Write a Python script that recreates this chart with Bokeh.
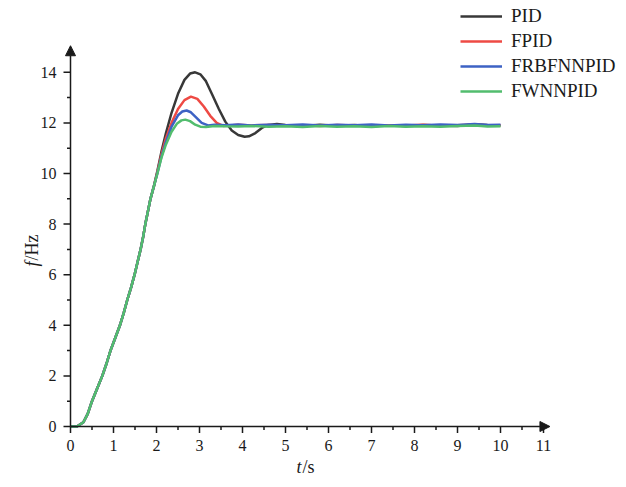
import math
from bokeh.plotting import figure
from bokeh.models import Range1d, Arrow, NormalHead, Legend, LegendItem
from bokeh.core.properties import value
from bokeh.embed import file_html
from bokeh.resources import INLINE

# common rising part (all four controllers overlap)
rise_t = [0, 0.15, 0.3, 0.4, 0.5, 0.62, 0.74, 0.84, 0.93, 1.04, 1.15, 1.24, 1.32, 1.41,
          1.49, 1.56, 1.63, 1.69, 1.74, 1.8, 1.86, 1.94]
rise_f = [0, 0, 0.17, 0.5, 1.0, 1.5, 2.0, 2.5, 3.0, 3.5, 4.0, 4.5, 5.0, 5.5,
          6.0, 6.5, 7.0, 7.5, 8.0, 8.5, 9.0, 9.5]

pid_t = [2.02, 2.12, 2.22, 2.35, 2.5, 2.65, 2.78, 2.9, 3.02, 3.15, 3.3, 3.45, 3.6, 3.75, 3.9,
         4.05, 4.15, 4.3, 4.45, 4.6, 4.8, 5.0, 5.4, 5.8, 6.2, 6.6, 7.0, 7.4, 7.8, 8.2,
         8.6, 9.0, 9.4, 9.7, 10.0]
pid_f = [10.1, 10.9, 11.6, 12.4, 13.15, 13.7, 13.95, 14.0, 13.92, 13.65, 13.1, 12.55, 12.05, 11.7, 11.52,
         11.45, 11.47, 11.6, 11.8, 11.92, 11.96, 11.92, 11.88, 11.93, 11.89, 11.92, 11.87, 11.91, 11.88, 11.92,
         11.9, 11.88, 11.95, 11.92, 11.9]

fpid_t = [2.02, 2.12, 2.22, 2.35, 2.5, 2.65, 2.8, 2.95, 3.1, 3.25, 3.4, 3.55, 3.7, 3.9, 4.2,
          4.6, 5.0, 5.4, 5.8, 6.2, 6.6, 7.0, 7.4, 7.8, 8.2, 8.6, 9.0, 9.4, 9.7, 10.0]
fpid_f = [10.05, 10.8, 11.4, 12.0, 12.55, 12.9, 13.04, 12.95, 12.65, 12.28, 12.0, 11.88, 11.9, 11.93, 11.9,
          11.92, 11.89, 11.91, 11.88, 11.92, 11.9, 11.88, 11.91, 11.9, 11.93, 11.89, 11.91, 11.94, 11.9, 11.91]

frbf_t = [2.02, 2.12, 2.22, 2.35, 2.5, 2.6, 2.7, 2.8, 2.92, 3.05, 3.2, 3.35, 3.6, 3.9, 4.2,
          4.6, 5.0, 5.4, 5.8, 6.2, 6.6, 7.0, 7.4, 7.8, 8.2, 8.6, 9.0, 9.4, 9.7, 10.0]
frbf_f = [10.0, 10.7, 11.25, 11.85, 12.3, 12.45, 12.49, 12.42, 12.22, 12.0, 11.9, 11.93, 11.91, 11.94, 11.9,
          11.93, 11.91, 11.94, 11.9, 11.93, 11.91, 11.94, 11.9, 11.93, 11.91, 11.94, 11.92, 11.96, 11.92, 11.93]

fwnn_t = [2.02, 2.12, 2.22, 2.35, 2.48, 2.58, 2.67, 2.78, 2.9, 3.02, 3.15, 3.35, 3.6, 3.9, 4.2,
          4.6, 5.0, 5.4, 5.8, 6.2, 6.6, 7.0, 7.4, 7.8, 8.2, 8.6, 9.0, 9.4, 9.7, 10.0]
fwnn_f = [10.0, 10.65, 11.15, 11.65, 11.98, 12.1, 12.13, 12.07, 11.93, 11.85, 11.84, 11.88, 11.87, 11.86, 11.88,
          11.85, 11.87, 11.84, 11.88, 11.85, 11.87, 11.84, 11.88, 11.85, 11.87, 11.85, 11.88, 11.9, 11.86, 11.87]

names = ["PID", "FPID", "FRBFNNPID", "FWNNPID"]
colors = ["#383838", "#ee4a44", "#3d62c4", "#52bd6e"]

x_ticks = list(range(0, 12))
x_minor = [i + 0.5 for i in range(0, 11)]
y_ticks = list(range(0, 15, 2))
y_minor = list(range(1, 14, 2))
x_labels = [str(v) for v in x_ticks]
y_labels = [str(v) for v in y_ticks]

FONT = value("Liberation Serif")
INK = "#1a1a1a"

W, H = 620, 482
PX_X = 43.0      # pixels per second
PX_Y = 25.3      # pixels per Hz
X0, Y0 = 70, 426 # pixel position of the origin
xr = Range1d(-X0 / PX_X, (W - X0) / PX_X)
yr = Range1d((Y0 - H) / PX_Y, Y0 / PX_Y)

p = figure(width=W, height=H, output_backend="svg", toolbar_location=None,
           x_range=xr, y_range=yr, x_axis_type=None, y_axis_type=None,
           min_border=0)
p.outline_line_color = None
p.grid.visible = False

series = [(pid_t, pid_f), (fpid_t, fpid_f), (frbf_t, frbf_f), (fwnn_t, fwnn_f)]
renderers = []
for (tt, ff), c in zip(series, colors):
    r = p.line(rise_t + tt, rise_f + ff, line_color=c, line_width=2.5)
    renderers.append(r)

# axes drawn as arrows
head = dict(size=10, fill_color=INK, line_color=INK)
p.add_layout(Arrow(end=NormalHead(**head), x_start=0, y_start=0, x_end=11.15, y_end=0,
                   line_width=1.5, line_color=INK))
p.add_layout(Arrow(end=NormalHead(**head), x_start=0, y_start=0, x_end=0, y_end=15.05,
                   line_width=1.5, line_color=INK))

# ticks (lengths in pixels converted to data units)
maj_x = 6.5 / PX_Y
min_x = 3.5 / PX_Y
maj_y = 7 / PX_X
min_y = 3.5 / PX_X
p.segment(x0=x_ticks, y0=[0] * len(x_ticks), x1=x_ticks, y1=[-maj_x] * len(x_ticks),
          line_color=INK, line_width=1.5)
p.segment(x0=x_minor, y0=[0] * len(x_minor), x1=x_minor, y1=[-min_x] * len(x_minor),
          line_color=INK, line_width=1.5)
p.segment(x0=[0] * len(y_ticks), y0=y_ticks, x1=[-maj_y] * len(y_ticks), y1=y_ticks,
          line_color=INK, line_width=1.5)
p.segment(x0=[0] * len(y_minor), y0=y_minor, x1=[-min_y] * len(y_minor), y1=y_minor,
          line_color=INK, line_width=1.5)

# tick labels
p.text(x=x_ticks, y=[-13 / PX_Y] * len(x_ticks), text=x_labels, text_font=FONT,
       text_font_size="16px", text_color=INK, text_align="center", text_baseline="top")
p.text(x=[-14 / PX_X] * len(y_ticks), y=y_ticks, text=y_labels, text_font=FONT,
       text_font_size="16px", text_color=INK, text_align="right", text_baseline="middle")

# axis titles
p.text(x=[(296 - X0) / PX_X], y=[(Y0 - 466) / PX_Y], text=["t"], text_font=FONT,
       text_font_style="italic", text_font_size="18px", text_color=INK,
       text_align="left", text_baseline="middle")
p.text(x=[(302 - X0) / PX_X], y=[(Y0 - 466) / PX_Y], text=["/s"], text_font=FONT,
       text_font_size="18px", text_color=INK, text_align="left", text_baseline="middle")
p.text(x=[(31 - X0) / PX_X], y=[(Y0 - 266) / PX_Y], text=["f"], text_font=FONT,
       text_font_style="italic", text_font_size="18px", text_color=INK, angle=math.pi / 2,
       text_align="left", text_baseline="middle")
p.text(x=[(31 - X0) / PX_X], y=[(Y0 - 260) / PX_Y], text=["/Hz"], text_font=FONT,
       text_font_size="18px", text_color=INK, angle=math.pi / 2,
       text_align="left", text_baseline="middle")

legend = Legend(items=[LegendItem(label=n, renderers=[r]) for n, r in zip(names, renderers)],
                location=(460, 380), glyph_width=42, glyph_height=20, label_height=20,
                spacing=3, padding=0, margin=0, border_line_color=None,
                background_fill_alpha=0, label_text_font="Liberation Serif",
                label_text_font_size="19px", label_text_color=INK, label_standoff=9)
p.add_layout(legend)

open("out.html", "w").write(file_html(p, INLINE))
